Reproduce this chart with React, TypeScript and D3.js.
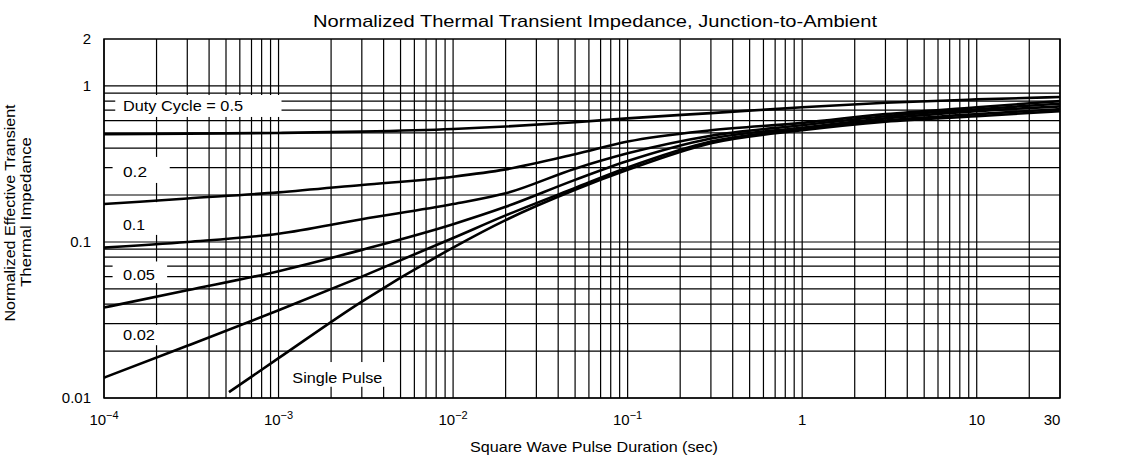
import React from "react";
import * as d3 from "d3";

const width = 1132,
  height = 473;
const margin = { top: 39, right: 72, bottom: 75, left: 104 };

// pulse durations (sec) shared by the duty-cycle curves
const durations = [1e-4, 3e-4, 1e-3, 3e-3, 1e-2, 2e-2, 5e-2, 0.1, 0.3, 1, 3, 10, 30];
const duty05 = [0.49, 0.495, 0.5, 0.51, 0.53, 0.55, 0.585, 0.62, 0.67, 0.73, 0.78, 0.82, 0.85];
const duty02 = [0.175, 0.19, 0.208, 0.232, 0.262, 0.292, 0.365, 0.44, 0.52, 0.58, 0.66, 0.73, 0.8];
const duty01 = [0.092, 0.1, 0.113, 0.14, 0.175, 0.205, 0.295, 0.37, 0.48, 0.56, 0.64, 0.71, 0.77];
const duty005 = [0.038, 0.049, 0.065, 0.089, 0.13, 0.168, 0.25, 0.33, 0.46, 0.54, 0.62, 0.69, 0.74];
const duty002 = [0.0135, 0.0216, 0.0365, 0.06, 0.106, 0.148, 0.222, 0.3, 0.44, 0.53, 0.6, 0.66, 0.71];
// single pulse starts later
const singleDurations = [5.2e-4, 1e-3, 3e-3, 1e-2, 2e-2, 5e-2, 0.1, 0.3, 1, 3, 10, 30];
const singlePulse = [0.0109, 0.018, 0.0415, 0.092, 0.138, 0.216, 0.29, 0.43, 0.52, 0.59, 0.64, 0.69];

const xTicks = [1e-4, 1e-3, 1e-2, 1e-1, 1, 10, 30];
const yTicks = [0.01, 0.1, 1, 2];

// curve labels: text, duration, impedance of baseline, white box [t0, t1, z0, z1]
const labels = [
  { text: "Duty Cycle = 0.5", t: 1.285e-4, z: 0.69, box: [1.16e-4, 1.04e-3, 0.875, 0.633], len: 120 },
  { text: "0.2", t: 1.285e-4, z: 0.261, box: [1.12e-4, 2.38e-4, 0.351, 0.239], len: 24 },
  { text: "0.1", t: 1.285e-4, z: 0.1188, box: [1.12e-4, 2.38e-4, 0.18, 0.111], len: 22 },
  { text: "0.05", t: 1.285e-4, z: 0.0569, box: [1.12e-4, 2.3e-4, 0.075, 0.0545], len: 32 },
  { text: "0.02", t: 1.285e-4, z: 0.0235, box: [1.12e-4, 2.2e-4, 0.0294, 0.0218], len: 32 },
  { text: "Single Pulse", t: 1.2e-3, z: 0.0124, box: [1.15e-3, 4.4e-3, 0.017, 0.0118], len: 90 },
];

const font = "'Liberation Sans', Arial, sans-serif";

const App = () => {
  const x = d3
    .scaleLog()
    .domain([1e-4, 30])
    .range([margin.left, width - margin.right]);
  const y = d3
    .scaleLog()
    .domain([0.01, 2])
    .range([height - margin.bottom, margin.top]);

  const xGrid: number[] = [];
  for (let e = -4; e <= 1; e++) {
    for (let m = 1; m <= 9; m++) {
      const v = m * Math.pow(10, e);
      if (v <= 30 + 1e-9) xGrid.push(v);
    }
  }
  const yGrid: number[] = [];
  for (let e = -2; e <= -1; e++) {
    for (let m = 1; m <= 9; m++) yGrid.push(m * Math.pow(10, e));
  }
  yGrid.push(1);

  const line = d3
    .line<[number, number]>()
    .x((d) => x(d[0]))
    .y((d) => y(d[1]))
    .curve(d3.curveMonotoneX);

  const series = [duty05, duty02, duty01, duty005, duty002].map((vals) =>
    durations.map((t, i) => [t, vals[i]] as [number, number])
  );
  series.push(singleDurations.map((t, i) => [t, singlePulse[i]] as [number, number]));

  const [x0, x1] = x.range();
  const [y0, y1] = y.range();

  const supTick = (v: number) => {
    if (v >= 1) return <tspan>{String(v)}</tspan>;
    const e = Math.round(Math.log10(v));
    return (
      <>
        <tspan>10</tspan>
        <tspan dy={-6} fontSize={11}>
          {"\u2212" + Math.abs(e)}
        </tspan>
      </>
    );
  };

  return (
    <svg
      width={width}
      height={height}
      style={{ position: "absolute", left: 0, top: 0, background: "#fff" }}
      fontFamily={font}
    >
      <rect width={width} height={height} fill="#fff" />
      <text x={595} y={27} textAnchor="middle" fontSize={17} textLength={564} lengthAdjust="spacingAndGlyphs">
        Normalized Thermal Transient Impedance, Junction-to-Ambient
      </text>

      <g stroke="#000" strokeWidth={1.2}>
        {xGrid.map((v, i) => (
          <line key={"vx" + i} x1={x(v)} x2={x(v)} y1={y1} y2={y0} />
        ))}
        {yGrid.map((v, i) => (
          <line key={"hy" + i} x1={x0} x2={x1} y1={y(v)} y2={y(v)} />
        ))}
        <rect x={x0} y={y1} width={x1 - x0} height={y0 - y1} fill="none" strokeWidth={1.5} />
      </g>

      <g fill="#fff">
        {labels.map((l, i) => (
          <rect
            key={"b" + i}
            x={x(l.box[0])}
            y={y(l.box[2])}
            width={x(l.box[1]) - x(l.box[0])}
            height={y(l.box[3]) - y(l.box[2])}
          />
        ))}
      </g>

      <g fill="none" stroke="#000" strokeWidth={2.6} strokeLinejoin="round">
        {series.map((s, i) => (
          <path key={"s" + i} d={line(s) || ""} />
        ))}
      </g>

      <g fontSize={15}>
        {labels.map((l, i) => (
          <text key={"t" + i} x={x(l.t)} y={y(l.z)} textLength={l.len} lengthAdjust="spacingAndGlyphs">
            {l.text}
          </text>
        ))}
      </g>

      <g fontSize={15} textAnchor="end">
        {yTicks.map((v) => (
          <text key={"yt" + v} x={x0 - 13} y={y(v)} dy="0.35em">
            {String(v)}
          </text>
        ))}
      </g>

      <g fontSize={15} textAnchor="middle">
        {xTicks.map((v) => (
          <text key={"xt" + v} x={v === 30 ? x(v) - 8 : x(v)} y={y0 + 27}>
            {supTick(v)}
          </text>
        ))}
      </g>

      <text x={594} y={452} textAnchor="middle" fontSize={15} textLength={248} lengthAdjust="spacingAndGlyphs">
        Square Wave Pulse Duration (sec)
      </text>

      <g fontSize={15} textAnchor="middle">
        <text transform="translate(15,213) rotate(-90)" textLength={217} lengthAdjust="spacingAndGlyphs">
          Normalized Effective Transient
        </text>
        <text transform="translate(31,212) rotate(-90)" textLength={150} lengthAdjust="spacingAndGlyphs">
          Thermal Impedance
        </text>
      </g>
    </svg>
  );
};

export default App;
